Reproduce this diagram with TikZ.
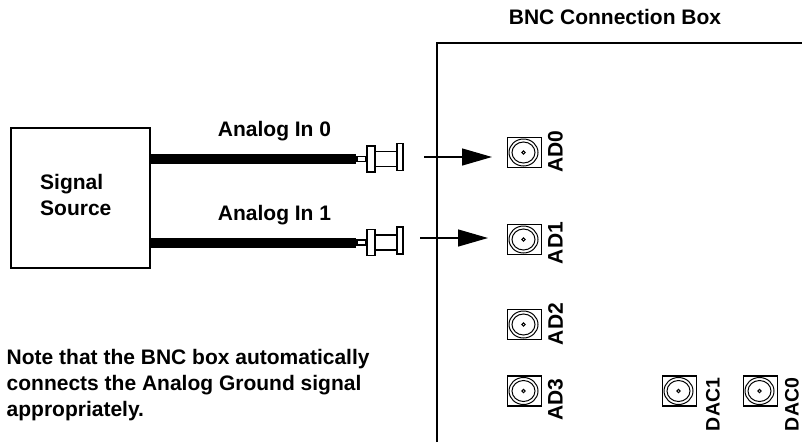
\documentclass[tikz,border=0pt]{standalone}
\usepackage{fontspec}
\setmainfont{Liberation Sans}
\usetikzlibrary{calc,arrows.meta,positioning}

\begin{document}
\begin{tikzpicture}[x=1pt,y=-1pt,font=\fontsize{21}{26}\selectfont\bfseries]

\tikzset{socketbox/.style={draw,line width=1.8pt,minimum width=34pt,minimum height=30pt,inner sep=0pt,shape=rectangle},
socketlabel/.style={rotate=90,inner sep=0pt},
daclabel/.style={socketlabel,font=\fontsize{19.5}{24}\selectfont\bfseries},
titlelabel/.style={inner sep=0pt},
boxline/.style={line width=1.4pt},
cable/.style={line width=10pt},
feedline/.style={line width=1.3pt,-{Triangle[length=30pt,width=17pt]}},
plugpart/.style={draw,line width=1.3pt,fill=white,inner sep=0pt,shape=rectangle}}

\useasboundingbox (0,0) rectangle (802,442);

% Connection box outline
\coordinate (boxbot) at (437,442);
\coordinate (boxtop) at (437,43);
\coordinate (boxright) at (802,43);
\draw[boxline] (boxbot) -- (boxtop) -- (boxright);
\node[titlelabel] (boxtitle) at (615,16.5) {BNC Connection Box};

% Signal source
\node[draw,boxline,minimum width=139pt,minimum height=140pt,inner sep=0pt] (source) at (80.5,198) {};
\node[titlelabel,align=left,anchor=west] (sourcelabel) at (40,195) {Signal\\Source};

% Sockets
\foreach \name/\x/\y in {ad0/524.5/152.5,ad1/524.5/239.5,ad2/524.5/324.5,ad3/524.5/391,dac1/679.5/391,dac0/760.5/391} {
  \node[socketbox] (\name) at (\x,\y) {};
  \draw[line width=1pt] ($(\name)+(-1,0)$) circle [x radius=14.5pt,y radius=13.5pt];
  \draw[line width=1pt] ($(\name)+(-1,0)$) circle [x radius=11.5pt,y radius=10.5pt];
  \draw[line width=1pt] ($(\name)+(-1,0)$) circle [radius=1.7pt];
}

% Socket labels
\node[socketlabel] (ad0label) at (555.5,151.5) {AD0};
\node[socketlabel] (ad1label) at (555.5,243) {AD1};
\node[socketlabel] (ad2label) at (555.5,324) {AD2};
\node[socketlabel] (ad3label) at (555.5,399.5) {AD3};
\node[daclabel] (dac1label) at (713,404.5) {DAC1};
\node[daclabel] (dac0label) at (792,404.5) {DAC0};

% Cables and plugs
\foreach \n/\y/\ay/\sx in {0/159/157/424,1/242.5/238/420} {
  \node[plugpart,minimum width=9pt,minimum height=5pt] (stem\n) at (361.5,\y) {};
  \draw[cable] (source.east |- stem\n.west) -- (stem\n.west);
  \node[plugpart,minimum width=22pt,minimum height=15pt] (body\n) at (386,\y) {};
  \node[plugpart,minimum width=8pt,minimum height=26pt] (flangea\n) at (371,\y) {};
  \node[plugpart,minimum width=6pt,minimum height=27pt] (flangeb\n) at (400,\y-2) {};
  \coordinate (start\n) at (\sx,\ay);
  \coordinate (end\n) at (\sx+68,\ay);
  \draw[feedline] (start\n) -- (end\n);
}

% Cable labels
\node[titlelabel] (in0) at (274.5,131) {Analog In 0};
\node[titlelabel] (in1) at (274.5,215) {Analog In 1};

% Note
\node[titlelabel,anchor=north west,align=left] (note) at (6.5,349) {Note that the BNC box automatically\\connects the Analog Ground signal\\appropriately.};

\end{tikzpicture}
\end{document}
